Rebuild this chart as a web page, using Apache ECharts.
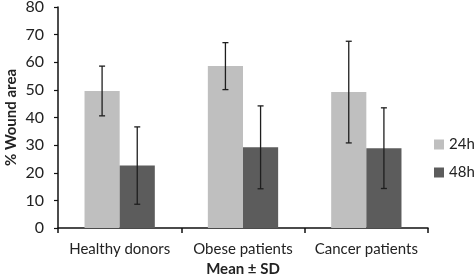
<!DOCTYPE html>
<html>
<head>
<meta charset="utf-8">
<script src="https://cdn.jsdelivr.net/npm/echarts@6/dist/echarts.min.js"></script>
<style>html,body{margin:0;padding:0;background:#fff}#c{width:475px;height:278px}</style>
</head>
<body>
<div id="c"></div>
<script>
var categories = ['Healthy donors', 'Obese patients', 'Cancer patients'];
var seriesNames = ['24h', '48h'];
var mean24 = [49.6, 58.6, 49.2];
var sd24 = [9.0, 8.5, 18.4];
var mean48 = [22.6, 29.2, 28.9];
var sd48 = [14.0, 15.0, 14.6];
var yTicks = [0, 10, 20, 30, 40, 50, 60, 70, 80];

var FONT = 'Lato';
var colors = ['#bfbfbf', '#5c5c5c'];
var CAT_GAP = 0.43;

function errData(means, sds) {
  return means.map(function (m, i) { return [i, m - sds[i], m + sds[i]]; });
}

function errSeries(idx, means, sds) {
  return {
    type: 'custom',
    name: seriesNames[idx] + ' SD',
    z: 10,
    silent: true,
    data: errData(means, sds),
    encode: { x: 0, y: [1, 2] },
    renderItem: function (params, api) {
      var cat = api.value(0);
      var lo = api.coord([cat, api.value(1)]);
      var hi = api.coord([cat, api.value(2)]);
      var catW = api.size([1, 0])[0];
      var bw = catW * (1 - CAT_GAP) / 2;
      var x = lo[0] + (idx - 0.5) * bw;
      var cap = 3;
      var style = { stroke: '#1e1e1e', lineWidth: 1.3 };
      return {
        type: 'group',
        children: [
          { type: 'line', shape: { x1: x, y1: lo[1], x2: x, y2: hi[1] }, style: style },
          { type: 'line', shape: { x1: x - cap, y1: lo[1], x2: x + cap, y2: lo[1] }, style: style },
          { type: 'line', shape: { x1: x - cap, y1: hi[1], x2: x + cap, y2: hi[1] }, style: style }
        ]
      };
    }
  };
}

var chart = echarts.init(document.getElementById('c'), null, { renderer: 'canvas' });
chart.setOption({
  animation: false,
  textStyle: { fontFamily: FONT },
  grid: { left: 58, right: 47, top: 7, bottom: 50, outerBoundsMode: 'none', containLabel: false },
  legend: {
    orient: 'vertical',
    left: 429,
    top: 132,
    icon: 'rect',
    itemWidth: 10,
    itemHeight: 10,
    itemGap: 13,
    data: seriesNames,
    textStyle: { fontFamily: FONT, fontSize: 15, color: '#222' }
  },
  xAxis: {
    type: 'category',
    data: categories,
    axisLine: { lineStyle: { color: '#111', width: 1.5 } },
    axisTick: { show: true, length: 5, lineStyle: { color: '#111', width: 1.5 } },
    axisLabel: { interval: 0, fontFamily: FONT, fontSize: 15, color: '#222', margin: 14 },
    name: 'Mean ± SD',
    nameLocation: 'middle',
    nameGap: 33,
    nameTextStyle: { fontFamily: FONT, fontSize: 15, fontWeight: 'bold', color: '#222' }
  },
  yAxis: {
    type: 'value',
    min: yTicks[0],
    max: yTicks[yTicks.length - 1],
    interval: 10,
    axisLine: { show: true, lineStyle: { color: '#111', width: 1.5 } },
    axisTick: { show: true, length: 4, lineStyle: { color: '#111', width: 1.2 } },
    splitLine: { show: false },
    axisLabel: { fontFamily: FONT, fontSize: 16, color: '#222', margin: 14 },
    name: '% Wound area',
    nameLocation: 'middle',
    nameGap: 39,
    nameMoveOverlap: false,
    nameTextStyle: { fontFamily: FONT, fontSize: 15, fontWeight: 'bold', color: '#222' }
  },
  series: [
    { type: 'bar', name: seriesNames[0], data: mean24, itemStyle: { color: colors[0] }, barGap: '0%', barCategoryGap: (CAT_GAP * 100) + '%' },
    { type: 'bar', name: seriesNames[1], data: mean48, itemStyle: { color: colors[1] }, barGap: '0%', barCategoryGap: (CAT_GAP * 100) + '%' },
    errSeries(0, mean24, sd24),
    errSeries(1, mean48, sd48)
  ]
});
</script>
</body>
</html>
